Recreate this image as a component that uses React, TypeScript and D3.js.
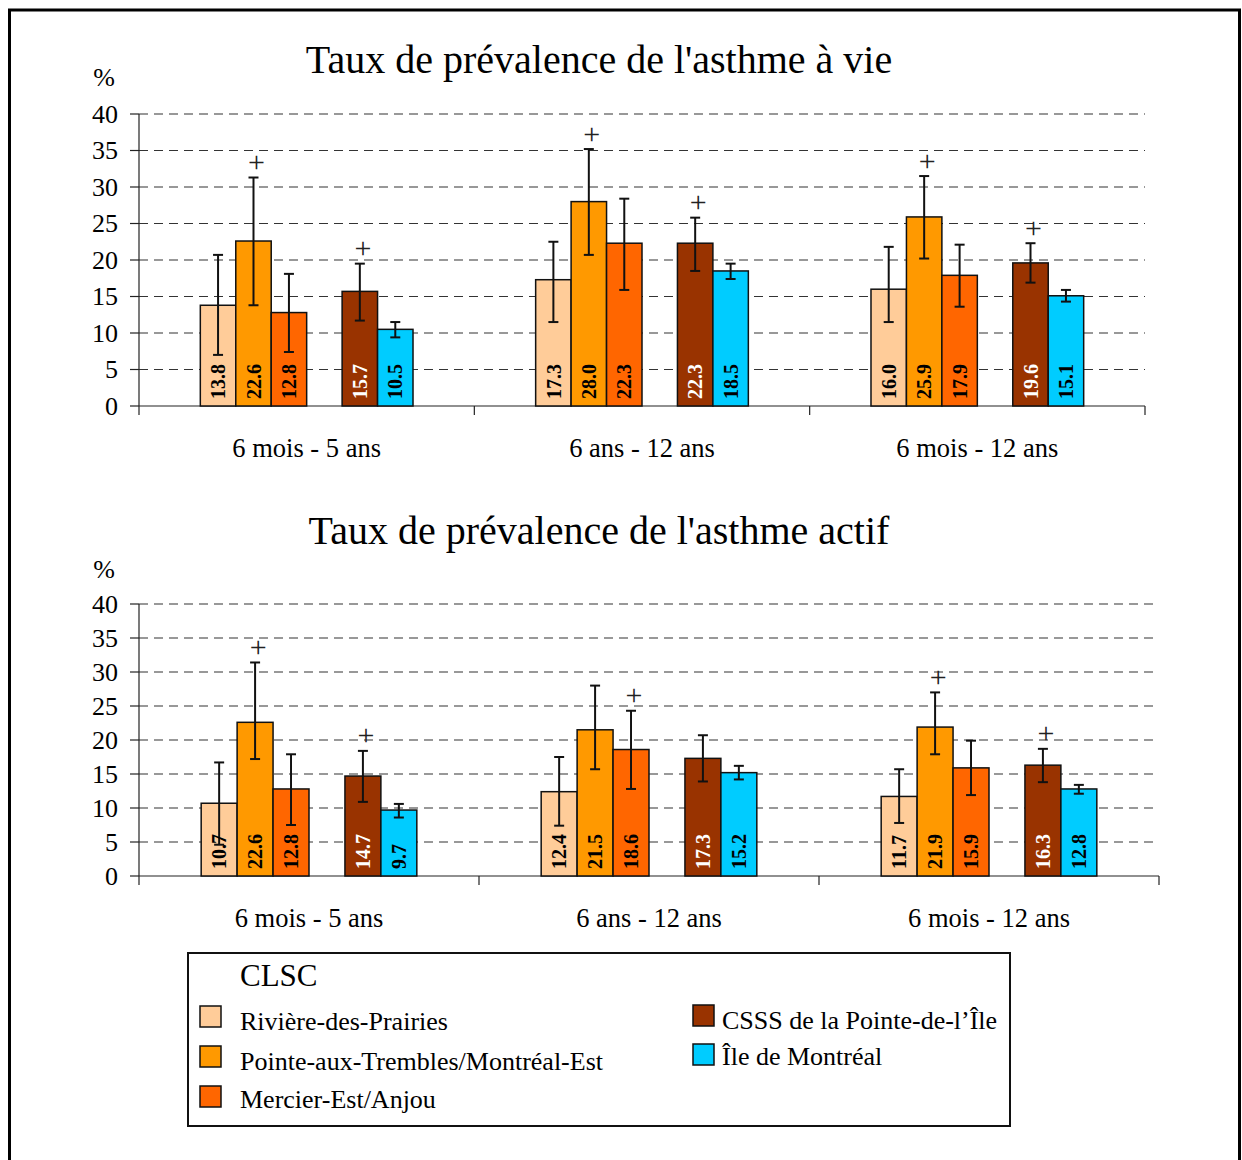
import React from "react";
import * as d3 from "d3";

const categories = ["6 mois - 5 ans", "6 ans - 12 ans", "6 mois - 12 ans"];
const seriesNames = [
  "Rivière-des-Prairies",
  "Pointe-aux-Trembles/Montréal-Est",
  "Mercier-Est/Anjou",
  "CSSS de la Pointe-de-l’Île",
  "Île de Montréal",
];
const seriesColors = ["#FFCC99", "#FF9900", "#FF6600", "#993300", "#00CCFF"];
const seriesSlots = [0, 1, 2, 4, 5];
const yTicks = [0, 5, 10, 15, 20, 25, 30, 35, 40];

// Taux de prévalence de l'asthme à vie
const vieValues = [
  [13.8, 17.3, 16.0],
  [22.6, 28.0, 25.9],
  [12.8, 22.3, 17.9],
  [15.7, 22.3, 19.6],
  [10.5, 18.5, 15.1],
];
const vieLow = [
  [7.0, 11.5, 11.5],
  [13.8, 20.7, 20.2],
  [7.4, 15.9, 13.6],
  [11.7, 18.5, 16.9],
  [9.4, 17.4, 14.3],
];
const vieHigh = [
  [20.7, 22.5, 21.8],
  [31.3, 35.2, 31.5],
  [18.1, 28.4, 22.1],
  [19.5, 25.8, 22.3],
  [11.5, 19.5, 15.9],
];
const vieSig = [
  [false, false, false],
  [true, true, true],
  [false, false, false],
  [true, true, true],
  [false, false, false],
];

// Taux de prévalence de l'asthme actif
const actifValues = [
  [10.7, 12.4, 11.7],
  [22.6, 21.5, 21.9],
  [12.8, 18.6, 15.9],
  [14.7, 17.3, 16.3],
  [9.7, 15.2, 12.8],
];
const actifLow = [
  [4.6, 7.4, 7.8],
  [17.2, 15.7, 17.9],
  [7.5, 12.8, 11.9],
  [10.9, 13.9, 13.8],
  [8.6, 14.2, 12.1],
];
const actifHigh = [
  [16.7, 17.5, 15.7],
  [31.4, 28.0, 27.0],
  [17.9, 24.3, 19.9],
  [18.4, 20.7, 18.7],
  [10.6, 16.2, 13.4],
];
const actifSig = [
  [false, false, false],
  [true, false, true],
  [false, true, false],
  [true, false, true],
  [false, false, false],
];

const SERIF = "'Liberation Serif', 'Times New Roman', serif";

type PanelProps = {
  title: string;
  titleY: number;
  pctY: number;
  x0: number;
  x1: number;
  yTop: number;
  yBottom: number;
  catLabelY: number;
  values: number[][];
  low: number[][];
  high: number[][];
  sig: boolean[][];
};

function Panel(p: PanelProps) {
  const y = d3.scaleLinear().domain([0, 40]).range([p.yBottom, p.yTop]);
  const xCat = d3.scaleBand<string>().domain(categories).range([p.x0, p.x1]).padding(0);
  const xSlot = d3
    .scaleBand<number>()
    .domain([0, 1, 2, 3, 4, 5])
    .range([0, xCat.bandwidth()])
    .paddingInner(0)
    .paddingOuter(1.73);
  const bw = xSlot.bandwidth();
  const boundaries = [...categories.map((c) => xCat(c) as number), p.x1];

  return (
    <g>
      <text x={599} y={p.titleY} textAnchor="middle" fontFamily={SERIF} fontSize={40}>
        {p.title}
      </text>
      <text x={104} y={p.pctY} textAnchor="middle" fontFamily={SERIF} fontSize={26}>
        %
      </text>
      {yTicks.map((t) => (
        <g key={t}>
          {t > 0 && (
            <line
              x1={p.x0}
              x2={p.x1}
              y1={y(t)}
              y2={y(t)}
              stroke="#333"
              strokeWidth={1.2}
              strokeDasharray="9,6"
            />
          )}
          <line x1={p.x0 - 9} x2={p.x0} y1={y(t)} y2={y(t)} stroke="#222" strokeWidth={1.2} />
          <text
            x={118}
            y={y(t)}
            dy="0.34em"
            textAnchor="end"
            fontFamily={SERIF}
            fontSize={26}
          >
            {t}
          </text>
        </g>
      ))}
      <line x1={p.x0} x2={p.x0} y1={p.yTop} y2={p.yBottom} stroke="#222" strokeWidth={1.2} />
      <line x1={p.x0} x2={p.x1} y1={p.yBottom} y2={p.yBottom} stroke="#222" strokeWidth={1.2} />
      {boundaries.map((b, i) => (
        <line key={i} x1={b} x2={b} y1={p.yBottom} y2={p.yBottom + 9} stroke="#222" strokeWidth={1.2} />
      ))}
      {categories.map((c) => (
        <text
          key={c}
          x={(xCat(c) as number) + xCat.bandwidth() / 2}
          y={p.catLabelY}
          textAnchor="middle"
          fontFamily={SERIF}
          fontSize={26.5}
        >
          {c}
        </text>
      ))}
      {seriesNames.map((s, si) =>
        categories.map((c, ci) => {
          const v = p.values[si][ci];
          const bx = (xCat(c) as number) + (xSlot(seriesSlots[si]) as number);
          const cx = bx + bw / 2;
          const yHi = y(p.high[si][ci]);
          const yLo = y(p.low[si][ci]);
          return (
            <g key={`${si}-${ci}`}>
              <rect
                x={bx}
                y={y(v)}
                width={bw}
                height={p.yBottom - y(v)}
                fill={seriesColors[si]}
                stroke="#111"
                strokeWidth={1.5}
              />
              <line x1={cx} x2={cx} y1={yHi} y2={yLo} stroke="#111" strokeWidth={2} />
              <line x1={cx - 5} x2={cx + 5} y1={yHi} y2={yHi} stroke="#111" strokeWidth={2} />
              <line x1={cx - 5} x2={cx + 5} y1={yLo} y2={yLo} stroke="#111" strokeWidth={2} />
              <text
                transform={`translate(${cx},${p.yBottom - 7}) rotate(-90)`}
                dy="0.36em"
                textAnchor="start"
                fontFamily={SERIF}
                fontWeight="bold"
                fontSize={20}
                fill={si === 3 ? "#fff" : "#000"}
              >
                {v.toFixed(1)}
              </text>
              {p.sig[si][ci] && (
                <text
                  x={cx + 3}
                  y={yHi - 16}
                  dy="0.35em"
                  textAnchor="middle"
                  fontFamily={SERIF}
                  fontSize={30}
                  fill="#222"
                >
                  +
                </text>
              )}
            </g>
          );
        })
      )}
    </g>
  );
}

function Legend() {
  const left = [0, 1, 2];
  const right = [3, 4];
  const leftY = [1017, 1057, 1097];
  const leftTextY = [1021, 1061, 1099];
  const rightY = [1016, 1055];
  const rightTextY = [1020, 1056];
  return (
    <g>
      <rect x={188} y={953} width={822} height={173} fill="#fff" stroke="#111" strokeWidth={2} />
      <text x={240} y={986} fontFamily={SERIF} fontSize={31}>
        CLSC
      </text>
      {left.map((si, i) => (
        <g key={si}>
          <rect
            x={200}
            y={leftY[i] - 11}
            width={21}
            height={21}
            fill={seriesColors[si]}
            stroke="#111"
            strokeWidth={1.5}
          />
          <text x={240} y={leftTextY[i]} dy="0.35em" fontFamily={SERIF} fontSize={26}>
            {seriesNames[si]}
          </text>
        </g>
      ))}
      {right.map((si, i) => (
        <g key={si}>
          <rect
            x={693}
            y={rightY[i] - 11}
            width={21}
            height={21}
            fill={seriesColors[si]}
            stroke="#111"
            strokeWidth={1.5}
          />
          <text x={722} y={rightTextY[i]} dy="0.35em" fontFamily={SERIF} fontSize={26}>
            {seriesNames[si]}
          </text>
        </g>
      ))}
    </g>
  );
}

export default function App() {
  return (
    <svg
      width={1242}
      height={1160}
      style={{ position: "absolute", left: 0, top: 0, background: "#fff" }}
    >
      <rect x={0} y={0} width={1242} height={1160} fill="#fff" />
      <rect x={9.5} y={10} width={1230} height={1200} fill="none" stroke="#000" strokeWidth={3} />
      <Panel
        title="Taux de prévalence de l'asthme à vie"
        titleY={73}
        pctY={86}
        x0={139}
        x1={1145}
        yTop={114}
        yBottom={406}
        catLabelY={457}
        values={vieValues}
        low={vieLow}
        high={vieHigh}
        sig={vieSig}
      />
      <Panel
        title="Taux de prévalence de l'asthme actif"
        titleY={544}
        pctY={578}
        x0={139}
        x1={1159}
        yTop={604}
        yBottom={876}
        catLabelY={927}
        values={actifValues}
        low={actifLow}
        high={actifHigh}
        sig={actifSig}
      />
      <Legend />
    </svg>
  );
}
